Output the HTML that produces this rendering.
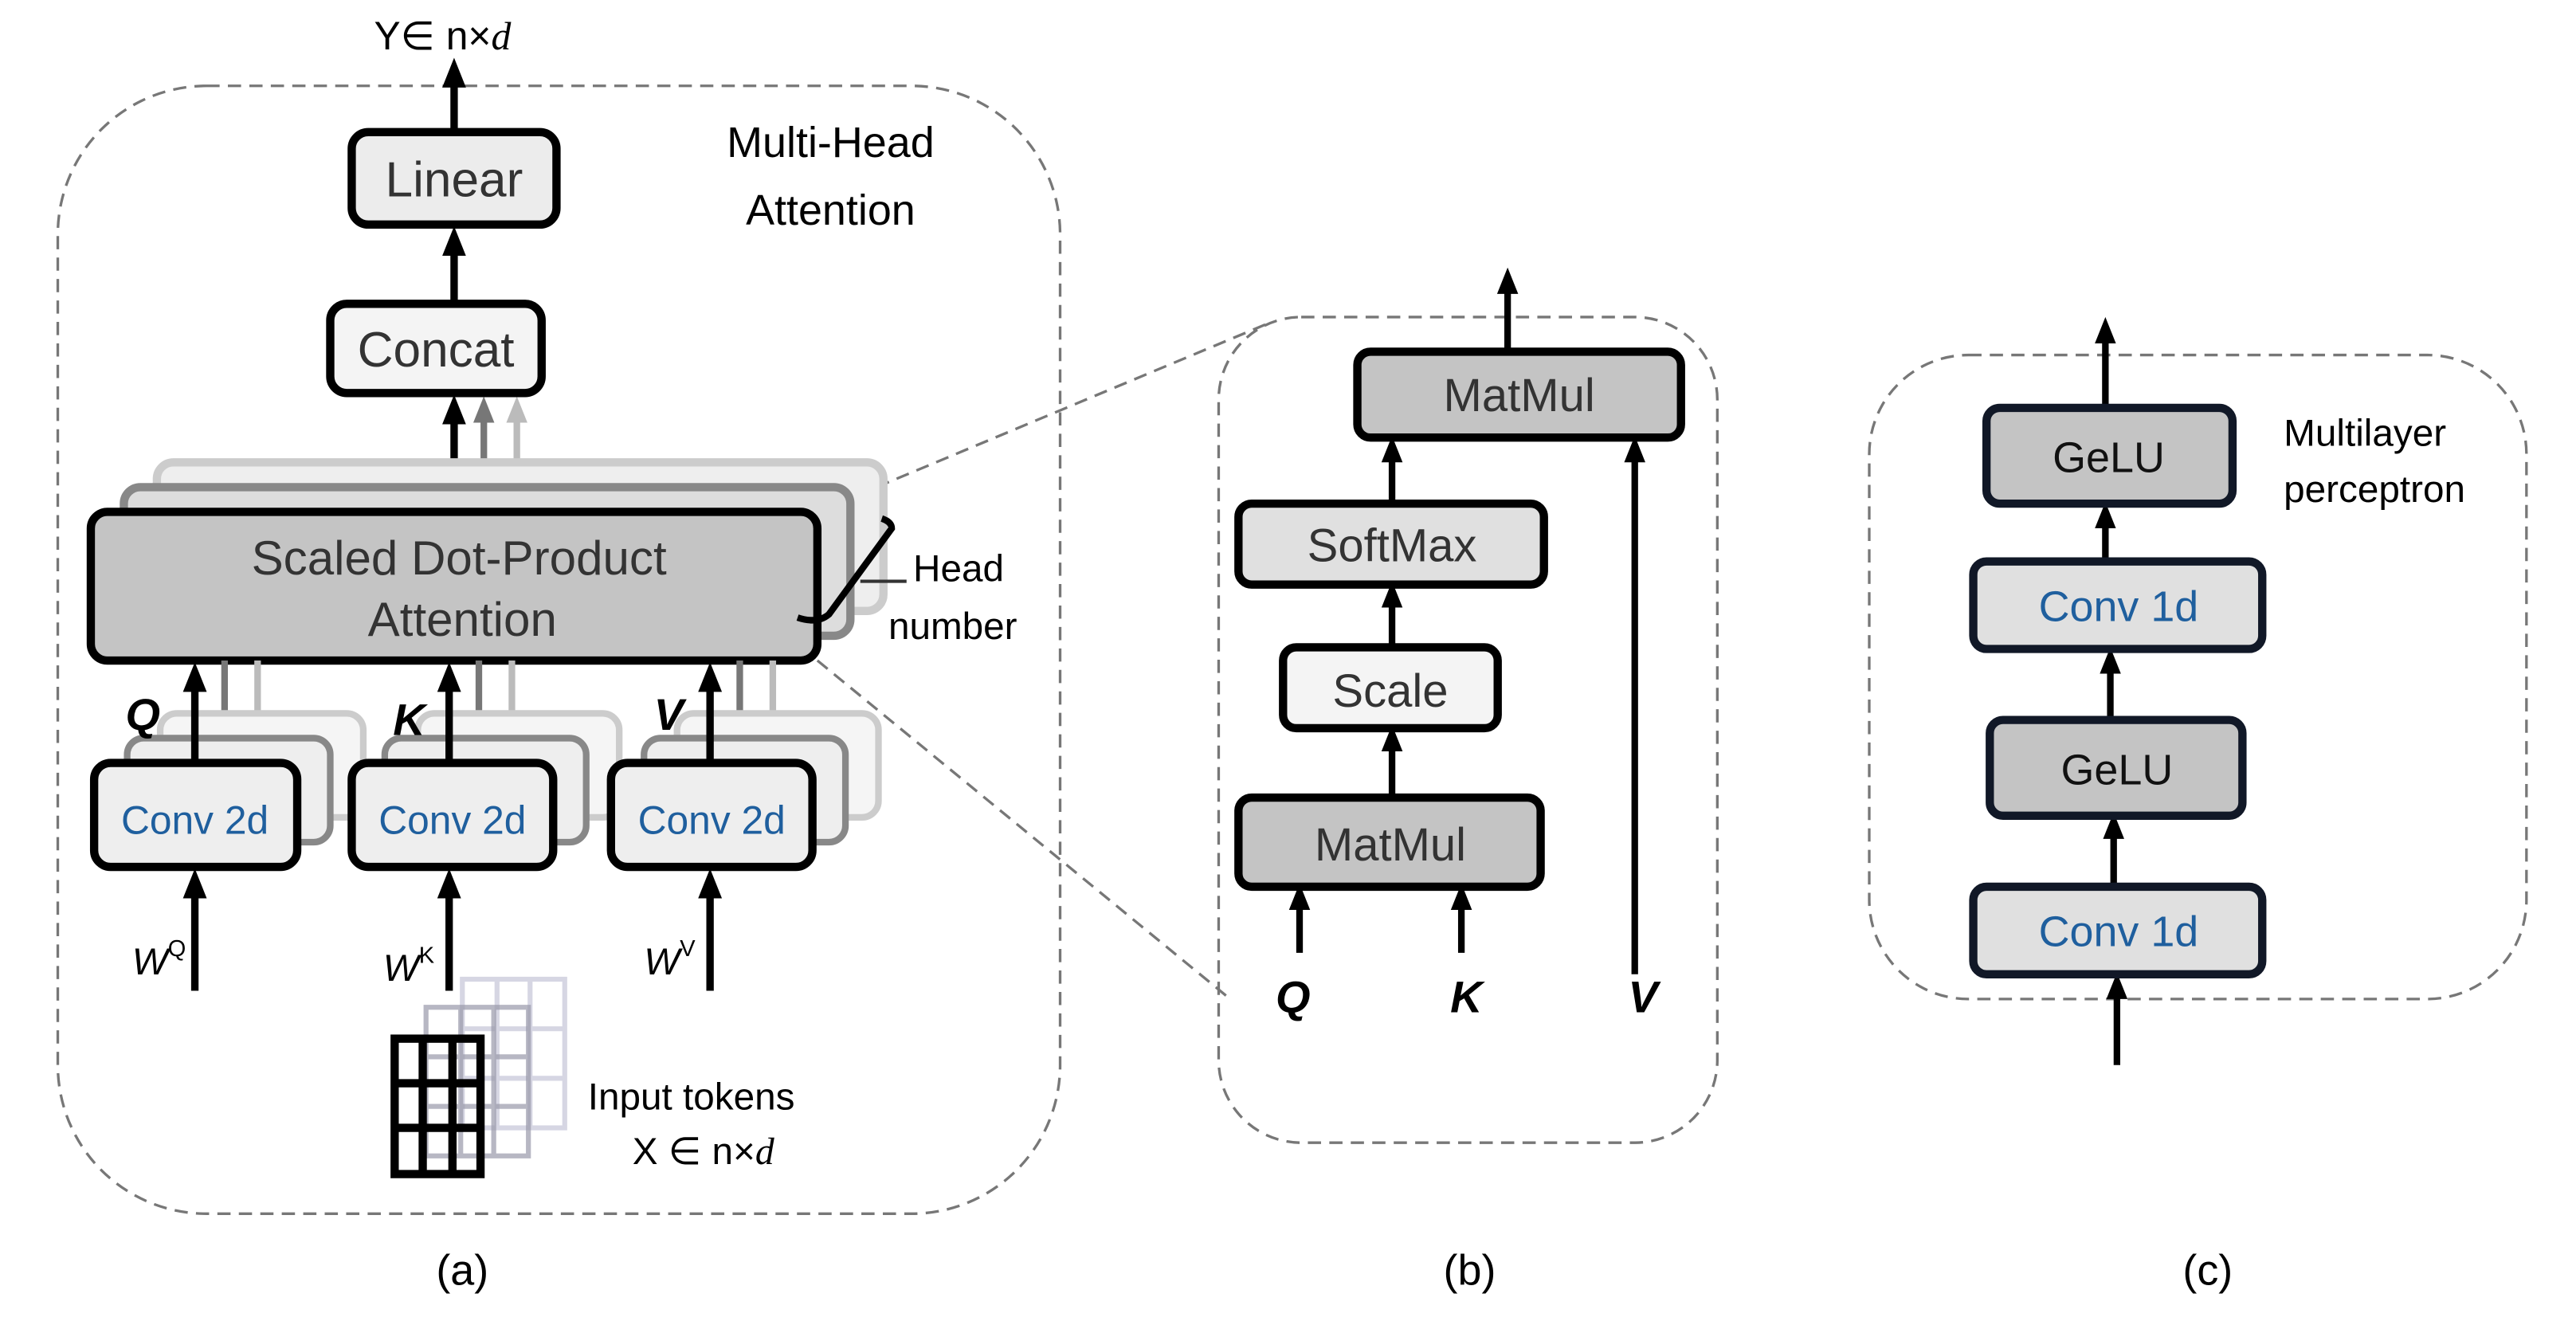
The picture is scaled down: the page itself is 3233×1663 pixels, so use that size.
<!DOCTYPE html>
<html><head><meta charset="utf-8"><style>
html,body{margin:0;padding:0;background:#fff;}
svg{display:block;}
text{font-family:"Liberation Sans",sans-serif;}
</style></head><body>
<svg width="3233" height="1663" viewBox="0 0 1560 802.4" preserveAspectRatio="none" xmlns="http://www.w3.org/2000/svg">
<defs>
<marker id="ab" markerWidth="4" markerHeight="4" refX="2" refY="2" orient="auto" markerUnits="strokeWidth"><path d="M0,0.4 L4,2 L0,3.6 Z" fill="#000"/></marker>
<marker id="ag" markerWidth="4" markerHeight="4" refX="2" refY="2" orient="auto" markerUnits="strokeWidth"><path d="M0,0.4 L4,2 L0,3.6 Z" fill="#777"/></marker>
<marker id="al" markerWidth="4" markerHeight="4" refX="2" refY="2" orient="auto" markerUnits="strokeWidth"><path d="M0,0.4 L4,2 L0,3.6 Z" fill="#bbb"/></marker>
</defs>
<g fill="none" stroke="#777" stroke-width="1.6" stroke-dasharray="8,5">
<rect x="35" y="52" width="607" height="683" rx="90"/>
<rect x="738" y="192" width="302" height="500" rx="50"/>
<rect x="1132" y="215" width="398" height="390" rx="60"/>
<line x1="495" y1="310" x2="770" y2="195"/>
<line x1="495" y1="400" x2="745" y2="605"/>
</g>
<!-- (a) -->
<text x="268" y="30" font-size="24" text-anchor="middle">Y∈ n×<tspan font-family="Liberation Serif" font-style="italic">d</tspan></text>
<text x="503" y="95" font-size="26" text-anchor="middle">Multi-Head</text>
<text x="503" y="136" font-size="26" text-anchor="middle">Attention</text>
<g stroke="#000" stroke-width="4.5" fill="none">
<line x1="275" y1="80" x2="275" y2="44" marker-end="url(#ab)"/>
<line x1="275" y1="184" x2="275" y2="146" marker-end="url(#ab)"/>
<line x1="275" y1="310" x2="275" y2="248" marker-end="url(#ab)"/>
</g>
<line x1="293" y1="295" x2="293" y2="248" stroke="#777" stroke-width="4" marker-end="url(#ag)"/>
<line x1="313" y1="280" x2="313" y2="248" stroke="#bbb" stroke-width="4" marker-end="url(#al)"/>
<rect x="213" y="80" width="124" height="56" rx="10" fill="#ececec" stroke="#000" stroke-width="5"/>
<text x="275" y="119" font-size="30" text-anchor="middle" fill="#333">Linear</text>
<rect x="200" y="184" width="128" height="54" rx="10" fill="#f4f4f4" stroke="#000" stroke-width="5"/>
<text x="264" y="222" font-size="30" text-anchor="middle" fill="#333">Concat</text>
<rect x="95" y="280" width="440" height="90" rx="10" fill="#eee" stroke="#ccc" stroke-width="5"/>
<rect x="75" y="295" width="440" height="90" rx="10" fill="#ddd" stroke="#888" stroke-width="5"/>
<rect x="55" y="310" width="440" height="90" rx="10" fill="#c4c4c4" stroke="#000" stroke-width="5"/>
<text x="278" y="348" font-size="29" text-anchor="middle" fill="#333">Scaled Dot-Product</text>
<text x="280" y="385" font-size="29" text-anchor="middle" fill="#333">Attention</text>
<path d="M483,374 Q495,378 502,372 L540,320 Q540,316 534,314" fill="none" stroke="#000" stroke-width="4"/>
<line x1="521" y1="352" x2="549" y2="352" stroke="#333" stroke-width="2"/>
<text x="553" y="352" font-size="23">Head</text>
<text x="538" y="387" font-size="23">number</text>
<g>
<g stroke-width="4" fill="none">
<line x1="136" y1="447" x2="136" y2="400" stroke="#777"/><line x1="156" y1="432" x2="156" y2="400" stroke="#bbb"/>
<line x1="290" y1="447" x2="290" y2="400" stroke="#777"/><line x1="310" y1="432" x2="310" y2="400" stroke="#bbb"/>
<line x1="448" y1="447" x2="448" y2="400" stroke="#777"/><line x1="468" y1="432" x2="468" y2="400" stroke="#bbb"/>
</g>
<rect x="97" y="432" width="123" height="63" rx="10" fill="#f5f5f5" stroke="#ccc" stroke-width="4"/>
<rect x="77" y="447" width="123" height="63" rx="10" fill="#eee" stroke="#888" stroke-width="4"/>
<rect x="253" y="432" width="122" height="63" rx="10" fill="#f5f5f5" stroke="#ccc" stroke-width="4"/>
<rect x="233" y="447" width="122" height="63" rx="10" fill="#eee" stroke="#888" stroke-width="4"/>
<rect x="410" y="432" width="122" height="63" rx="10" fill="#f5f5f5" stroke="#ccc" stroke-width="4"/>
<rect x="390" y="447" width="122" height="63" rx="10" fill="#eee" stroke="#888" stroke-width="4"/>
</g>
<g stroke="#000" stroke-width="4.5">
<line x1="118" y1="462" x2="118" y2="410" marker-end="url(#ab)"/>
<line x1="272" y1="462" x2="272" y2="410" marker-end="url(#ab)"/>
<line x1="430" y1="462" x2="430" y2="410" marker-end="url(#ab)"/>
<line x1="118" y1="600" x2="118" y2="535" marker-end="url(#ab)"/>
<line x1="272" y1="600" x2="272" y2="535" marker-end="url(#ab)"/>
<line x1="430" y1="600" x2="430" y2="535" marker-end="url(#ab)"/>
</g>
<rect x="57" y="462" width="123" height="63" rx="10" fill="#eee" stroke="#000" stroke-width="5"/>
<rect x="213" y="462" width="122" height="63" rx="10" fill="#eee" stroke="#000" stroke-width="5"/>
<rect x="370" y="462" width="122" height="63" rx="10" fill="#eee" stroke="#000" stroke-width="5"/>
<g font-size="24" fill="#1f5f9e" text-anchor="middle">
<text x="118" y="505">Conv 2d</text><text x="274" y="505">Conv 2d</text><text x="431" y="505">Conv 2d</text>
</g>
<g font-size="27" font-weight="bold" font-style="italic">
<text x="76" y="442">Q</text><text x="238" y="445">K</text><text x="396" y="442">V</text>
</g>
<g font-size="23" font-style="italic">
<text x="80" y="590">W<tspan font-size="14" dy="-11" font-style="normal">Q</tspan></text>
<text x="232" y="594">W<tspan font-size="14" dy="-11" font-style="normal">K</tspan></text>
<text x="390" y="590">W<tspan font-size="14" dy="-11" font-style="normal">V</tspan></text>
</g>
<g fill="none">
<g stroke="#ccd" stroke-width="3" opacity="0.8">
<rect x="280" y="593" width="62" height="90"/>
<line x1="301" y1="593" x2="301" y2="683"/><line x1="321" y1="593" x2="321" y2="683"/>
<line x1="280" y1="623" x2="342" y2="623"/><line x1="280" y1="653" x2="342" y2="653"/>
</g>
<g stroke="#99a" stroke-width="3" opacity="0.7">
<rect x="258" y="610" width="62" height="90"/>
<line x1="279" y1="610" x2="279" y2="700"/><line x1="299" y1="610" x2="299" y2="700"/>
<line x1="258" y1="640" x2="320" y2="640"/><line x1="258" y1="670" x2="320" y2="670"/>
</g>
<g stroke="#000" stroke-width="5">
<rect x="239" y="629" width="52" height="82"/>
<line x1="256" y1="629" x2="256" y2="711"/><line x1="274" y1="629" x2="274" y2="711"/>
<line x1="239" y1="656" x2="291" y2="656"/><line x1="239" y1="683" x2="291" y2="683"/>
</g>
</g>
<text x="356" y="672" font-size="23">Input tokens</text>
<text x="383" y="705" font-size="23">X ∈ n×<tspan font-family="Liberation Serif" font-style="italic">d</tspan></text>
<text x="280" y="778" font-size="26" text-anchor="middle">(a)</text>
<!-- (b) -->
<g stroke="#000" stroke-width="4">
<line x1="913" y1="213" x2="913" y2="170" marker-end="url(#ab)"/>
<line x1="990" y1="590" x2="990" y2="272" marker-end="url(#ab)"/>
<line x1="843" y1="305" x2="843" y2="272" marker-end="url(#ab)"/>
<line x1="843" y1="392" x2="843" y2="360" marker-end="url(#ab)"/>
<line x1="843" y1="483" x2="843" y2="447" marker-end="url(#ab)"/>
<line x1="787" y1="577" x2="787" y2="543" marker-end="url(#ab)"/>
<line x1="885" y1="577" x2="885" y2="543" marker-end="url(#ab)"/>
</g>
<rect x="822" y="213" width="196" height="52" rx="8" fill="#c4c4c4" stroke="#000" stroke-width="5"/>
<text x="920" y="249" font-size="28" text-anchor="middle" fill="#333">MatMul</text>
<rect x="750" y="305" width="185" height="49" rx="8" fill="#e0e0e0" stroke="#000" stroke-width="5"/>
<text x="843" y="340" font-size="28" text-anchor="middle" fill="#333">SoftMax</text>
<rect x="777" y="392" width="130" height="49" rx="8" fill="#f4f4f4" stroke="#000" stroke-width="5"/>
<text x="842" y="428" font-size="28" text-anchor="middle" fill="#333">Scale</text>
<rect x="750" y="483" width="183" height="54" rx="8" fill="#c4c4c4" stroke="#000" stroke-width="5"/>
<text x="842" y="521" font-size="28" text-anchor="middle" fill="#333">MatMul</text>
<g font-size="27" font-weight="bold" font-style="italic" text-anchor="middle">
<text x="783" y="613">Q</text><text x="888" y="613">K</text><text x="995" y="613">V</text>
</g>
<text x="890" y="778" font-size="26" text-anchor="middle">(b)</text>
<!-- (c) -->
<g stroke="#000" stroke-width="4">
<line x1="1275" y1="247" x2="1275" y2="200" marker-end="url(#ab)"/>
<line x1="1275" y1="340" x2="1275" y2="312" marker-end="url(#ab)"/>
<line x1="1278" y1="436" x2="1278" y2="400" marker-end="url(#ab)"/>
<line x1="1280" y1="537" x2="1280" y2="500" marker-end="url(#ab)"/>
<line x1="1282" y1="645" x2="1282" y2="597" marker-end="url(#ab)"/>
</g>
<g stroke="#111827" stroke-width="5">
<rect x="1203" y="247" width="149" height="58" rx="8" fill="#c4c4c4"/>
<rect x="1195" y="340" width="175" height="53" rx="8" fill="#e0e0e0"/>
<rect x="1205" y="436" width="153" height="58" rx="8" fill="#c4c4c4"/>
<rect x="1195" y="537" width="175" height="53" rx="8" fill="#e0e0e0"/>
</g>
<g font-size="26" text-anchor="middle">
<text x="1277" y="286" fill="#111">GeLU</text>
<text x="1283" y="376" fill="#1f5f9e">Conv 1d</text>
<text x="1282" y="475" fill="#111">GeLU</text>
<text x="1283" y="573" fill="#1f5f9e">Conv 1d</text>
</g>
<text x="1383" y="270" font-size="23">Multilayer</text>
<text x="1383" y="304" font-size="23">perceptron</text>
<text x="1337" y="778" font-size="26" text-anchor="middle">(c)</text>
</svg>
</body></html>
